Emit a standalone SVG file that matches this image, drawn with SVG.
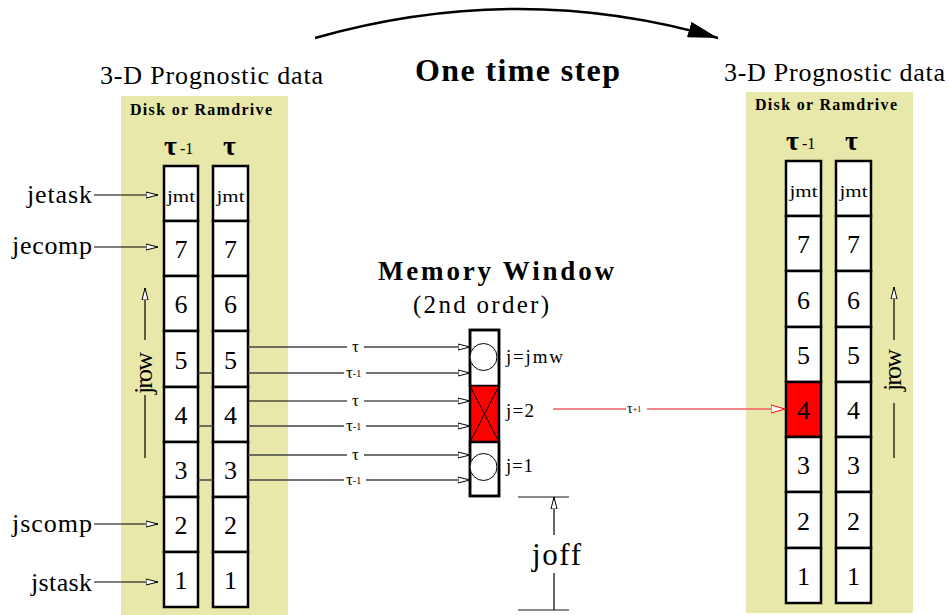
<svg xmlns="http://www.w3.org/2000/svg" width="949" height="615" viewBox="0 0 949 615">
<style>
text{font-family:"Liberation Serif","Times New Roman",serif;fill:#000}
.panel{fill:#e8e8aa}
.cell{fill:#fff;stroke:#000;stroke-width:2.5}
.num{font-size:26px;text-anchor:middle}
.jmt{font-size:17px}
.head{font-size:26px}
.disk{font-size:16px;font-weight:bold}
.tau{font-size:28px;font-weight:bold}
.sub{font-size:16px}
.lab{font-size:26px}
.ln{stroke:#444;stroke-width:1.3;fill:none}
.lnk{stroke:#000;stroke-width:1.2;fill:none}
.small{font-size:17px}
.tiny{font-size:10px}
.jl{font-size:19px}
</style>
<defs>
<marker id="ha" viewBox="0 0 12 8" refX="12" refY="4" markerWidth="12" markerHeight="8" markerUnits="userSpaceOnUse" orient="auto">
<path d="M0,1 L12,4 L0,7 Z" fill="#fff" stroke="#000" stroke-width="1"/>
</marker>
<marker id="hr" viewBox="0 0 14 10" refX="14" refY="5" markerWidth="14" markerHeight="10" markerUnits="userSpaceOnUse" orient="auto">
<path d="M0,1 L14,5 L0,9 Z" fill="#fff" stroke="#f00" stroke-width="1"/>
</marker>
<marker id="hb" viewBox="0 0 30 16" refX="30" refY="8" markerWidth="30" markerHeight="16" markerUnits="userSpaceOnUse" orient="auto">
<path d="M0,0 L30,8 L0,16 Z" fill="#000"/>
</marker>
</defs>

<!-- Title arc -->
<g id="timestep">
<path d="M315,38 Q520,-20 718,38" fill="none" stroke="#000" stroke-width="2.5" marker-end="url(#hb)"/>
<text x="415" y="81" font-size="32" font-weight="bold" textLength="205" lengthAdjust="spacing">One time step</text>
</g>

<!-- Left panel -->
<g id="left-panel">
<rect class="panel" x="121" y="96" width="167" height="519"/>
<text class="head" x="100" y="84" textLength="223" lengthAdjust="spacing">3-D Prognostic data</text>
<text class="disk" x="130" y="115" textLength="142" lengthAdjust="spacing">Disk or Ramdrive</text>
<text class="tau" x="164" y="155">τ</text><text class="sub" x="180" y="154">-1</text>
<text class="tau" x="223" y="155">τ</text>
</g>
<g id="left-col-tm1">
<rect class="cell" x="164" y="166" width="34" height="55"/><text class="jmt" x="167" y="202" textLength="28" lengthAdjust="spacingAndGlyphs">jmt</text>
<rect class="cell" x="164" y="221" width="34" height="55"/><text class="num" x="181" y="258">7</text>
<rect class="cell" x="164" y="276" width="34" height="55"/><text class="num" x="181" y="313">6</text>
<rect class="cell" x="164" y="331" width="34" height="56"/><text class="num" x="181" y="369">5</text>
<rect class="cell" x="164" y="387" width="34" height="55"/><text class="num" x="181" y="424">4</text>
<rect class="cell" x="164" y="442" width="34" height="55"/><text class="num" x="181" y="479">3</text>
<rect class="cell" x="164" y="497" width="34" height="55"/><text class="num" x="181" y="534">2</text>
<rect class="cell" x="164" y="552" width="34" height="55"/><text class="num" x="181" y="589">1</text>
</g>
<g id="left-col-t">
<rect class="cell" x="213" y="166" width="35" height="55"/><text class="jmt" x="216.5" y="202" textLength="28" lengthAdjust="spacingAndGlyphs">jmt</text>
<rect class="cell" x="213" y="221" width="35" height="55"/><text class="num" x="230.5" y="258">7</text>
<rect class="cell" x="213" y="276" width="35" height="55"/><text class="num" x="230.5" y="313">6</text>
<rect class="cell" x="213" y="331" width="35" height="56"/><text class="num" x="230.5" y="369">5</text>
<rect class="cell" x="213" y="387" width="35" height="55"/><text class="num" x="230.5" y="424">4</text>
<rect class="cell" x="213" y="442" width="35" height="55"/><text class="num" x="230.5" y="479">3</text>
<rect class="cell" x="213" y="497" width="35" height="55"/><text class="num" x="230.5" y="534">2</text>
<rect class="cell" x="213" y="552" width="35" height="55"/><text class="num" x="230.5" y="589">1</text>
</g>
<g id="left-labels">
<text class="lab" x="27" y="203" textLength="65" lengthAdjust="spacing">jetask</text>
<text class="lab" x="12" y="254" textLength="80" lengthAdjust="spacing">jecomp</text>
<text class="lab" x="12" y="532" textLength="80" lengthAdjust="spacing">jscomp</text>
<text class="lab" x="31" y="591" textLength="61" lengthAdjust="spacing">jstask</text>
<text class="lab" transform="translate(152,373) rotate(-90)" x="-21" y="0" textLength="42" lengthAdjust="spacing">jrow</text>
</g>

<!-- Right panel -->
<g id="right-panel">
<rect class="panel" x="746" y="92" width="167" height="521"/>
<text class="head" x="724" y="81" textLength="221" lengthAdjust="spacing">3-D Prognostic data</text>
<text class="disk" x="755" y="110" textLength="142" lengthAdjust="spacing">Disk or Ramdrive</text>
<text class="tau" x="786" y="150">τ</text><text class="sub" x="802" y="149">-1</text>
<text class="tau" x="845" y="150">τ</text>
</g>
<g id="right-col-tm1">
<rect class="cell" x="786" y="161" width="35" height="55"/><text class="jmt" x="789.5" y="197" textLength="28" lengthAdjust="spacingAndGlyphs">jmt</text>
<rect class="cell" x="786" y="216" width="35" height="55"/><text class="num" x="803.5" y="253">7</text>
<rect class="cell" x="786" y="271" width="35" height="56"/><text class="num" x="803.5" y="309">6</text>
<rect class="cell" x="786" y="327" width="35" height="55"/><text class="num" x="803.5" y="364">5</text>
<rect x="786" y="382" width="35" height="55" fill="#f00" stroke="#000" stroke-width="2.5"/><text class="num" x="803.5" y="419">4</text>
<rect class="cell" x="786" y="437" width="35" height="55"/><text class="num" x="803.5" y="474">3</text>
<rect class="cell" x="786" y="492" width="35" height="56"/><text class="num" x="803.5" y="530">2</text>
<rect class="cell" x="786" y="548" width="35" height="55"/><text class="num" x="803.5" y="585">1</text>
</g>
<g id="right-col-t">
<rect class="cell" x="836" y="161" width="35" height="55"/><text class="jmt" x="839.5" y="197" textLength="28" lengthAdjust="spacingAndGlyphs">jmt</text>
<rect class="cell" x="836" y="216" width="35" height="55"/><text class="num" x="853.5" y="253">7</text>
<rect class="cell" x="836" y="271" width="35" height="56"/><text class="num" x="853.5" y="309">6</text>
<rect class="cell" x="836" y="327" width="35" height="55"/><text class="num" x="853.5" y="364">5</text>
<rect class="cell" x="836" y="382" width="35" height="55"/><text class="num" x="853.5" y="419">4</text>
<rect class="cell" x="836" y="437" width="35" height="55"/><text class="num" x="853.5" y="474">3</text>
<rect class="cell" x="836" y="492" width="35" height="56"/><text class="num" x="853.5" y="530">2</text>
<rect class="cell" x="836" y="548" width="35" height="55"/><text class="num" x="853.5" y="585">1</text>
</g>
<g id="right-labels">
<text class="lab" transform="translate(901,370) rotate(-90)" x="-21" y="0" textLength="42" lengthAdjust="spacing">jrow</text>
</g>

<!-- Memory window -->
<g id="memory-window">
<text x="378" y="280" font-size="27" font-weight="bold" textLength="236" lengthAdjust="spacing">Memory Window</text>
<text x="413" y="313" font-size="25" textLength="136" lengthAdjust="spacing">(2nd order)</text>
<rect x="470" y="330" width="29" height="56" fill="#fff" stroke="#000" stroke-width="2.5"/>
<rect x="470" y="386" width="29" height="56" fill="#f00" stroke="#000" stroke-width="1"/>
<rect x="470" y="442" width="29" height="54" fill="#fff" stroke="#000" stroke-width="2.5"/>
<rect x="470" y="330" width="29" height="166" fill="none" stroke="#000" stroke-width="2.5"/>
<path d="M470,386 L499,442 M499,386 L470,442" stroke="#000" stroke-width="1"/>
<circle cx="483.5" cy="357" r="13.5" fill="#fff" stroke="#000" stroke-width="1"/>
<circle cx="483.5" cy="467" r="13.5" fill="#fff" stroke="#000" stroke-width="1"/>
<text class="jl" x="506" y="363" textLength="57" lengthAdjust="spacing">j=jmw</text>
<text class="jl" x="506" y="417" textLength="28" lengthAdjust="spacing">j=2</text>
<text class="jl" x="506" y="472" textLength="27" lengthAdjust="spacing">j=1</text>
</g>

<g id="joff">
<path d="M518,497 H569 M518,610 H569" stroke="#666" stroke-width="1.5"/>
<path d="M554,535 V497" class="lnk" marker-end="url(#ha)"/>
<path d="M554,573 V610" class="lnk"/>
<text x="532" y="565" font-size="31" textLength="49" lengthAdjust="spacing">joff</text>
</g>

<!-- Connectors -->
<g id="connectors">
<path d="M94,195 H158" class="lnk" marker-end="url(#ha)"/>
<path d="M94,247 H158" class="lnk" marker-end="url(#ha)"/>
<path d="M94,524 H158" class="lnk" marker-end="url(#ha)"/>
<path d="M94,582 H158" class="lnk" marker-end="url(#ha)"/>
<path d="M145,340 V288" class="lnk" marker-end="url(#ha)"/>
<path d="M145,395 V458" class="lnk"/>
<path d="M894,340 V287" class="lnk" marker-end="url(#ha)"/>
<path d="M894,403 V458" class="lnk"/>

<path d="M198,373 H213 M198,426 H213 M198,480 H213" class="ln"/>

<path d="M248,347 H347 M364,347 H470" class="ln" marker-end="url(#ha)"/>
<text class="small" x="355.5" y="352" text-anchor="middle">τ</text>
<path d="M248,373 H344 M366,373 H470" class="ln" marker-end="url(#ha)"/>
<text class="small" x="346" y="378">τ<tspan class="tiny" dy="-1">-1</tspan></text>

<path d="M248,401 H347 M364,401 H470" class="lnk" marker-end="url(#ha)"/>
<text class="small" x="355.5" y="406" text-anchor="middle">τ</text>
<path d="M248,426 H344 M366,426 H470" class="ln" marker-end="url(#ha)"/>
<text class="small" x="346" y="431">τ<tspan class="tiny" dy="-1">-1</tspan></text>

<path d="M248,455 H347 M364,455 H470" class="ln" marker-end="url(#ha)"/>
<text class="small" x="355.5" y="460" text-anchor="middle">τ</text>
<path d="M248,480 H344 M366,480 H470" class="ln" marker-end="url(#ha)"/>
<text class="small" x="346" y="485">τ<tspan class="tiny" dy="-1">-1</tspan></text>

<path d="M553,409 H626 M647,409 H785" stroke="#f06060" stroke-width="1.3" fill="none" marker-end="url(#hr)"/>
<text x="627" y="413" font-size="14">τ<tspan font-size="8" dy="-1">+1</tspan></text>
</g>
</svg>
